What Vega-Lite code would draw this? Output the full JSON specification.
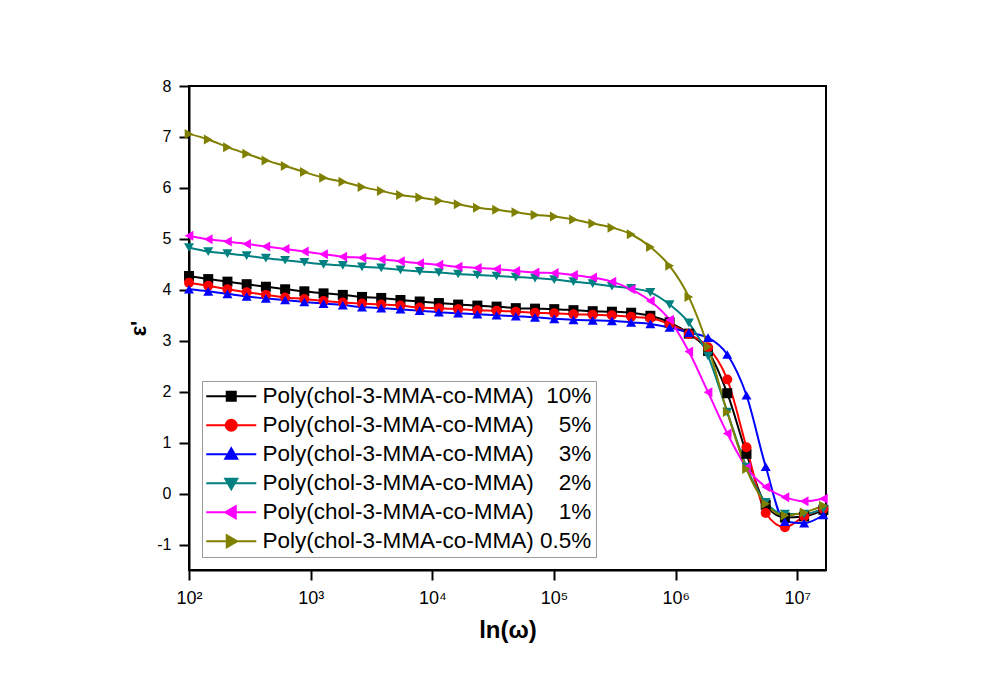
{
 "$schema": "https://vega.github.io/schema/vega-lite/v6.json",
 "width": 637,
 "height": 484,
 "autosize": {"type": "none"},
 "padding": {"left": 189, "top": 86, "right": 182, "bottom": 128},
 "background": "white",
 "datasets": {
  "eps": [
   {"f":100,"v":4.27,"s":"10%"},{"f":143.9,"v":4.21,"s":"10%"},{"f":207,"v":4.16,"s":"10%"},{"f":297.8,"v":4.11,"s":"10%"},{"f":428.5,"v":4.06,"s":"10%"},{"f":616.6,"v":4.01,"s":"10%"},{"f":887.2,"v":3.97,"s":"10%"},{"f":1276,"v":3.93,"s":"10%"},{"f":1837,"v":3.90,"s":"10%"},{"f":2642,"v":3.86,"s":"10%"},{"f":3802,"v":3.84,"s":"10%"},{"f":5470,"v":3.80,"s":"10%"},{"f":7870,"v":3.77,"s":"10%"},{"f":11324,"v":3.74,"s":"10%"},{"f":16293,"v":3.71,"s":"10%"},{"f":23442,"v":3.69,"s":"10%"},{"f":33729,"v":3.67,"s":"10%"},{"f":48529,"v":3.64,"s":"10%"},{"f":69823,"v":3.63,"s":"10%"},{"f":100462,"v":3.62,"s":"10%"},{"f":144544,"v":3.60,"s":"10%"},{"f":207970,"v":3.58,"s":"10%"},{"f":299226,"v":3.57,"s":"10%"},{"f":430527,"v":3.55,"s":"10%"},{"f":619441,"v":3.49,"s":"10%"},{"f":891251,"v":3.36,"s":"10%"},{"f":1282331,"v":3.14,"s":"10%"},{"f":1845015,"v":2.80,"s":"10%"},{"f":2654606,"v":1.97,"s":"10%"},{"f":3819443,"v":0.78,"s":"10%"},{"f":5495409,"v":-0.22,"s":"10%"},{"f":7906786,"v":-0.47,"s":"10%"},{"f":11376273,"v":-0.45,"s":"10%"},{"f":16368165,"v":-0.32,"s":"10%"},
   {"f":100,"v":4.14,"s":"5%"},{"f":143.9,"v":4.08,"s":"5%"},{"f":207,"v":4.01,"s":"5%"},{"f":297.8,"v":3.95,"s":"5%"},{"f":428.5,"v":3.90,"s":"5%"},{"f":616.6,"v":3.85,"s":"5%"},{"f":887.2,"v":3.82,"s":"5%"},{"f":1276,"v":3.78,"s":"5%"},{"f":1837,"v":3.75,"s":"5%"},{"f":2642,"v":3.73,"s":"5%"},{"f":3802,"v":3.71,"s":"5%"},{"f":5470,"v":3.69,"s":"5%"},{"f":7870,"v":3.65,"s":"5%"},{"f":11324,"v":3.64,"s":"5%"},{"f":16293,"v":3.62,"s":"5%"},{"f":23442,"v":3.60,"s":"5%"},{"f":33729,"v":3.59,"s":"5%"},{"f":48529,"v":3.57,"s":"5%"},{"f":69823,"v":3.55,"s":"5%"},{"f":100462,"v":3.54,"s":"5%"},{"f":144544,"v":3.52,"s":"5%"},{"f":207970,"v":3.51,"s":"5%"},{"f":299226,"v":3.50,"s":"5%"},{"f":430527,"v":3.47,"s":"5%"},{"f":619441,"v":3.44,"s":"5%"},{"f":891251,"v":3.33,"s":"5%"},{"f":1282331,"v":3.13,"s":"5%"},{"f":1845015,"v":2.87,"s":"5%"},{"f":2654606,"v":2.24,"s":"5%"},{"f":3819443,"v":0.91,"s":"5%"},{"f":5495409,"v":-0.38,"s":"5%"},{"f":7906786,"v":-0.66,"s":"5%"},{"f":11376273,"v":-0.45,"s":"5%"},{"f":16368165,"v":-0.30,"s":"5%"},
   {"f":100,"v":4.01,"s":"3%"},{"f":143.9,"v":3.97,"s":"3%"},{"f":207,"v":3.92,"s":"3%"},{"f":297.8,"v":3.87,"s":"3%"},{"f":428.5,"v":3.83,"s":"3%"},{"f":616.6,"v":3.80,"s":"3%"},{"f":887.2,"v":3.76,"s":"3%"},{"f":1276,"v":3.73,"s":"3%"},{"f":1837,"v":3.70,"s":"3%"},{"f":2642,"v":3.66,"s":"3%"},{"f":3802,"v":3.64,"s":"3%"},{"f":5470,"v":3.62,"s":"3%"},{"f":7870,"v":3.59,"s":"3%"},{"f":11324,"v":3.56,"s":"3%"},{"f":16293,"v":3.54,"s":"3%"},{"f":23442,"v":3.52,"s":"3%"},{"f":33729,"v":3.50,"s":"3%"},{"f":48529,"v":3.48,"s":"3%"},{"f":69823,"v":3.46,"s":"3%"},{"f":100462,"v":3.43,"s":"3%"},{"f":144544,"v":3.41,"s":"3%"},{"f":207970,"v":3.40,"s":"3%"},{"f":299226,"v":3.39,"s":"3%"},{"f":430527,"v":3.36,"s":"3%"},{"f":619441,"v":3.33,"s":"3%"},{"f":891251,"v":3.26,"s":"3%"},{"f":1282331,"v":3.16,"s":"3%"},{"f":1845015,"v":3.06,"s":"3%"},{"f":2654606,"v":2.73,"s":"3%"},{"f":3819443,"v":1.93,"s":"3%"},{"f":5495409,"v":0.53,"s":"3%"},{"f":7906786,"v":-0.55,"s":"3%"},{"f":11376273,"v":-0.58,"s":"3%"},{"f":16368165,"v":-0.42,"s":"3%"},
   {"f":100,"v":4.83,"s":"2%"},{"f":143.9,"v":4.75,"s":"2%"},{"f":207,"v":4.71,"s":"2%"},{"f":297.8,"v":4.67,"s":"2%"},{"f":428.5,"v":4.62,"s":"2%"},{"f":616.6,"v":4.58,"s":"2%"},{"f":887.2,"v":4.54,"s":"2%"},{"f":1276,"v":4.50,"s":"2%"},{"f":1837,"v":4.48,"s":"2%"},{"f":2642,"v":4.45,"s":"2%"},{"f":3802,"v":4.43,"s":"2%"},{"f":5470,"v":4.39,"s":"2%"},{"f":7870,"v":4.36,"s":"2%"},{"f":11324,"v":4.34,"s":"2%"},{"f":16293,"v":4.31,"s":"2%"},{"f":23442,"v":4.29,"s":"2%"},{"f":33729,"v":4.27,"s":"2%"},{"f":48529,"v":4.25,"s":"2%"},{"f":69823,"v":4.23,"s":"2%"},{"f":100462,"v":4.20,"s":"2%"},{"f":144544,"v":4.16,"s":"2%"},{"f":207970,"v":4.12,"s":"2%"},{"f":299226,"v":4.07,"s":"2%"},{"f":430527,"v":4.03,"s":"2%"},{"f":619441,"v":3.95,"s":"2%"},{"f":891251,"v":3.71,"s":"2%"},{"f":1282331,"v":3.35,"s":"2%"},{"f":1845015,"v":2.70,"s":"2%"},{"f":2654606,"v":1.60,"s":"2%"},{"f":3819443,"v":0.52,"s":"2%"},{"f":5495409,"v":-0.17,"s":"2%"},{"f":7906786,"v":-0.40,"s":"2%"},{"f":11376273,"v":-0.40,"s":"2%"},{"f":16368165,"v":-0.30,"s":"2%"},
   {"f":100,"v":5.06,"s":"1%"},{"f":143.9,"v":4.99,"s":"1%"},{"f":207,"v":4.95,"s":"1%"},{"f":297.8,"v":4.90,"s":"1%"},{"f":428.5,"v":4.85,"s":"1%"},{"f":616.6,"v":4.80,"s":"1%"},{"f":887.2,"v":4.75,"s":"1%"},{"f":1276,"v":4.70,"s":"1%"},{"f":1837,"v":4.65,"s":"1%"},{"f":2642,"v":4.63,"s":"1%"},{"f":3802,"v":4.60,"s":"1%"},{"f":5470,"v":4.56,"s":"1%"},{"f":7870,"v":4.52,"s":"1%"},{"f":11324,"v":4.49,"s":"1%"},{"f":16293,"v":4.45,"s":"1%"},{"f":23442,"v":4.43,"s":"1%"},{"f":33729,"v":4.41,"s":"1%"},{"f":48529,"v":4.37,"s":"1%"},{"f":69823,"v":4.34,"s":"1%"},{"f":100462,"v":4.33,"s":"1%"},{"f":144544,"v":4.29,"s":"1%"},{"f":207970,"v":4.24,"s":"1%"},{"f":299226,"v":4.16,"s":"1%"},{"f":430527,"v":4.01,"s":"1%"},{"f":619441,"v":3.78,"s":"1%"},{"f":891251,"v":3.41,"s":"1%"},{"f":1282331,"v":2.79,"s":"1%"},{"f":1845015,"v":1.99,"s":"1%"},{"f":2654606,"v":1.18,"s":"1%"},{"f":3819443,"v":0.51,"s":"1%"},{"f":5495409,"v":0.13,"s":"1%"},{"f":7906786,"v":-0.07,"s":"1%"},{"f":11376273,"v":-0.15,"s":"1%"},{"f":16368165,"v":-0.10,"s":"1%"},
   {"f":100,"v":7.06,"s":"0.5%"},{"f":143.9,"v":6.95,"s":"0.5%"},{"f":207,"v":6.80,"s":"0.5%"},{"f":297.8,"v":6.67,"s":"0.5%"},{"f":428.5,"v":6.54,"s":"0.5%"},{"f":616.6,"v":6.43,"s":"0.5%"},{"f":887.2,"v":6.31,"s":"0.5%"},{"f":1276,"v":6.20,"s":"0.5%"},{"f":1837,"v":6.12,"s":"0.5%"},{"f":2642,"v":6.02,"s":"0.5%"},{"f":3802,"v":5.94,"s":"0.5%"},{"f":5470,"v":5.86,"s":"0.5%"},{"f":7870,"v":5.81,"s":"0.5%"},{"f":11324,"v":5.75,"s":"0.5%"},{"f":16293,"v":5.68,"s":"0.5%"},{"f":23442,"v":5.61,"s":"0.5%"},{"f":33729,"v":5.57,"s":"0.5%"},{"f":48529,"v":5.52,"s":"0.5%"},{"f":69823,"v":5.47,"s":"0.5%"},{"f":100462,"v":5.44,"s":"0.5%"},{"f":144544,"v":5.38,"s":"0.5%"},{"f":207970,"v":5.30,"s":"0.5%"},{"f":299226,"v":5.22,"s":"0.5%"},{"f":430527,"v":5.09,"s":"0.5%"},{"f":619441,"v":4.84,"s":"0.5%"},{"f":891251,"v":4.47,"s":"0.5%"},{"f":1282331,"v":3.86,"s":"0.5%"},{"f":1845015,"v":2.88,"s":"0.5%"},{"f":2654606,"v":1.60,"s":"0.5%"},{"f":3819443,"v":0.48,"s":"0.5%"},{"f":5495409,"v":-0.20,"s":"0.5%"},{"f":7906786,"v":-0.43,"s":"0.5%"},{"f":11376273,"v":-0.37,"s":"0.5%"},{"f":16368165,"v":-0.24,"s":"0.5%"}
  ]
 },
 "data": {"name": "eps"},
 "encoding": {
  "x": {
   "field": "f", "type": "quantitative",
   "scale": {"type": "log", "domain": [100, 17200000], "nice": false},
   "axis": {
    "values": [100, 1000, 10000, 100000, 1000000, 10000000],
    "labelExpr": "'10' + ['⁰','¹','²','³','⁴','⁵','⁶','⁷','⁸'][round(log(datum.value)/LN10)]",
    "title": "ln(ω)", "titleFontSize": 24, "titlePadding": 11,
    "labelFontSize": 18, "labelPadding": 9, "labelFlush": false, "labelOverlap": false
   }
  },
  "y": {
   "field": "v", "type": "quantitative",
   "scale": {"domain": [-1.5, 8], "nice": false, "zero": false},
   "axis": {
    "values": [-1, 0, 1, 2, 3, 4, 5, 6, 7, 8],
    "labelExpr": "datum.value < 0 ? '-' + (-datum.value) : '' + datum.value",
    "title": "ε'", "titleFontSize": 22, "titlePadding": 6,
    "labelFontSize": 16, "labelPadding": 8
   }
  }
 },
 "layer": [
  {
   "mark": {"type": "line", "interpolate": "monotone", "strokeWidth": 2},
   "encoding": {
    "color": {"field": "s", "type": "nominal",
     "scale": {"domain": ["10%","5%","3%","2%","1%","0.5%"], "range": ["#000000","#FF0000","#0000FF","#008080","#FF00FF","#808000"]},
     "legend": null}
   }
  },
  {
   "mark": {"type": "point", "filled": true, "size": 100, "opacity": 1},
   "encoding": {
    "color": {"field": "s", "type": "nominal",
     "scale": {"domain": ["10%","5%","3%","2%","1%","0.5%"], "range": ["#000000","#FF0000","#0000FF","#008080","#FF00FF","#808000"]},
     "legend": null},
    "shape": {"field": "s", "type": "nominal",
     "scale": {"domain": ["10%","5%","3%","2%","1%","0.5%"], "range": ["square","circle","triangle-up","triangle-down","triangle-left","triangle-right"]},
     "legend": null}
   }
  },
  {
   "transform": [{"filter": "false"}],
   "mark": {"type": "point", "filled": true, "strokeWidth": 2, "opacity": 1},
   "encoding": {
    "fill": {"field": "s", "type": "nominal",
     "scale": {"domain": ["10%","5%","3%","2%","1%","0.5%"], "range": ["#000000","#FF0000","#0000FF","#008080","#FF00FF","#808000"]},
     "legend": {"title": null, "labelExpr": "'Poly(chol-3-MMA-co-MMA)' + (datum.value == '0.5%' ? '\u00a0' : datum.value == '10%' ? '\u00a0\u00a0' : '\u00a0\u00a0\u00a0\u00a0') + datum.value"}},
    "stroke": {"field": "s", "type": "nominal",
     "scale": {"domain": ["10%","5%","3%","2%","1%","0.5%"], "range": ["#000000","#FF0000","#0000FF","#008080","#FF00FF","#808000"]},
     "legend": {"title": null, "labelExpr": "'Poly(chol-3-MMA-co-MMA)' + (datum.value == '0.5%' ? '\u00a0' : datum.value == '10%' ? '\u00a0\u00a0' : '\u00a0\u00a0\u00a0\u00a0') + datum.value"}},
    "shape": {"field": "s", "type": "nominal",
     "scale": {"domain": ["10%","5%","3%","2%","1%","0.5%"], "range": [
      "M-5,0H5M-0.9,-0.9H0.9V0.9H-0.9Z",
      "M-5,0H5M-1.1,0A1.1,1.1,0,1,0,1.1,0A1.1,1.1,0,1,0,-1.1,0Z",
      "M-5,0H5M0,-1.2L1.2,0.9H-1.2Z",
      "M-5,0H5M0,1.2L1.2,-0.9H-1.2Z",
      "M-5,0H5M-1.2,0L0.9,-1.2V1.2Z",
      "M-5,0H5M1.2,0L-0.9,-1.2V1.2Z"]},
     "legend": {"title": null, "labelExpr": "'Poly(chol-3-MMA-co-MMA)' + (datum.value == '0.5%' ? '\u00a0' : datum.value == '10%' ? '\u00a0\u00a0' : '\u00a0\u00a0\u00a0\u00a0') + datum.value"}}
   }
  }
 ],
 "resolve": {"scale": {"shape": "independent", "fill": "independent", "stroke": "independent"}},
 "config": {
  "font": "Liberation Sans",
  "view": {"stroke": "#000000", "strokeWidth": 2},
  "axis": {
   "grid": false,
   "domainColor": "#000000", "domainWidth": 2,
   "tickColor": "#000000", "tickWidth": 2, "tickSize": 10,
   "labelFont": "Liberation Sans", "labelColor": "#000000",
   "titleFont": "Liberation Sans", "titleFontWeight": "bold", "titleColor": "#000000"
  },
  "legend": {
   "orient": "bottom-left", "offset": 13, "padding": 4,
   "strokeColor": "#9a9a9a", "fillColor": "#ffffff",
   "labelFont": "Liberation Sans", "labelFontSize": 22.5, "labelColor": "#000000", "labelLimit": 1000,
   "symbolSize": 100, "symbolStrokeWidth": 2, "symbolOffset": 14, "labelOffset": 20,
   "rowPadding": 6, "symbolOpacity": 1
  }
 }
}
